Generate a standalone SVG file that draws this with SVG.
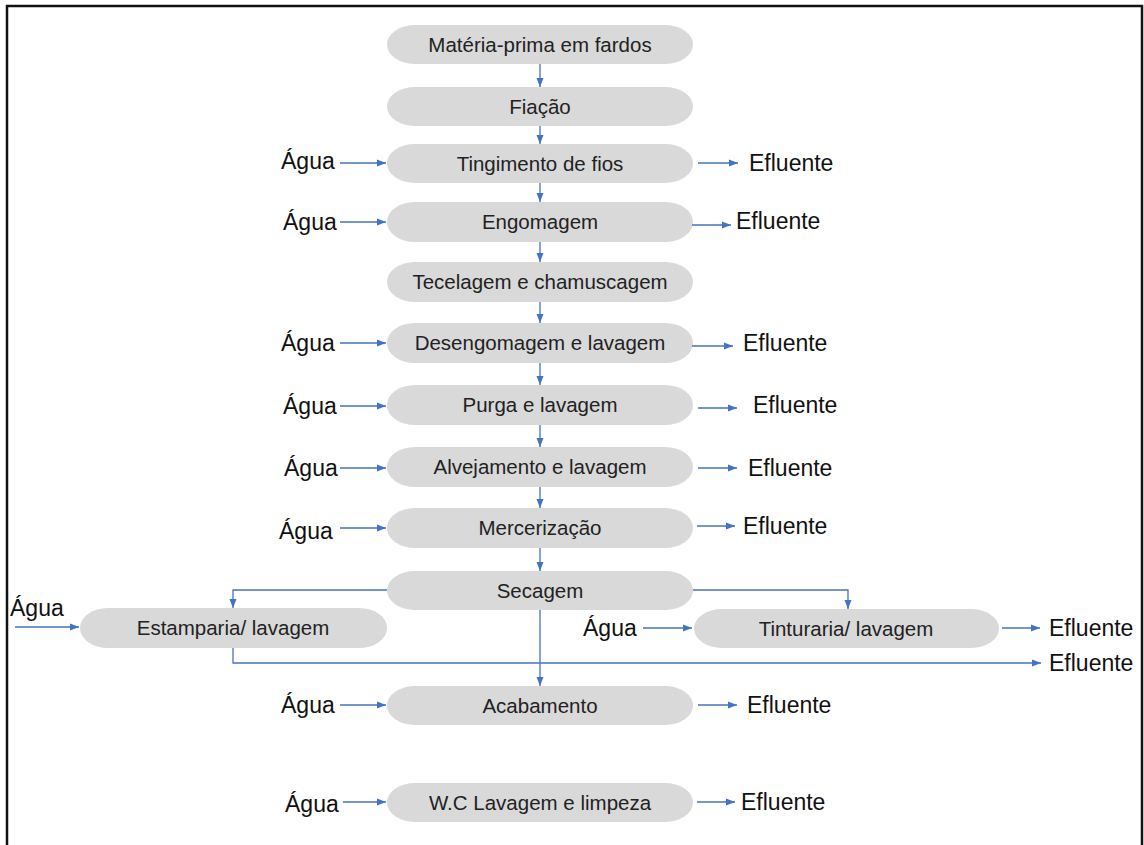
<svg xmlns="http://www.w3.org/2000/svg" width="1144" height="845" viewBox="0 0 1144 845">
<style>
.n{fill:#D9D9D9}
.t{font-family:"Liberation Sans",Arial,sans-serif;font-size:20.5px;fill:#222;text-anchor:middle}
.l{font-family:"Liberation Sans",Arial,sans-serif;font-size:23px;fill:#111}
.c{stroke:#4472C4;stroke-width:1.3;fill:none;marker-end:url(#a)}
</style>
<defs>
<marker id="a" markerUnits="userSpaceOnUse" markerWidth="10" markerHeight="8" refX="9" refY="4" orient="auto">
<path d="M0,0.5 L9,4 L0,7.5 z" fill="#4472C4"/>
</marker>
</defs>
<rect width="1144" height="845" fill="#fff"/>
<path d="M7,845 V6 H1142 V845" fill="none" stroke="#111" stroke-width="2.5"/>

<g id="n1"><rect class="n" x="387" y="25" width="306" height="39" rx="28" ry="20"/><text class="t" x="540" y="51.5">Matéria-prima em fardos</text></g>
<g id="n2"><rect class="n" x="387" y="87" width="306" height="39" rx="28" ry="20"/><text class="t" x="540" y="113.5">Fiação</text></g>
<g id="n3"><rect class="n" x="387" y="144" width="306" height="39" rx="28" ry="20"/><text class="t" x="540" y="170.5">Tingimento de fios</text></g>
<g id="n4"><rect class="n" x="387" y="202" width="306" height="40" rx="28" ry="20"/><text class="t" x="540" y="229">Engomagem</text></g>
<g id="n5"><rect class="n" x="387" y="262" width="306" height="40" rx="28" ry="20"/><text class="t" x="540" y="289">Tecelagem e chamuscagem</text></g>
<g id="n6"><rect class="n" x="387" y="323" width="306" height="40" rx="28" ry="20"/><text class="t" x="540" y="350">Desengomagem e lavagem</text></g>
<g id="n7"><rect class="n" x="387" y="385" width="306" height="40" rx="28" ry="20"/><text class="t" x="540" y="412">Purga e lavagem</text></g>
<g id="n8"><rect class="n" x="387" y="447" width="306" height="40" rx="28" ry="20"/><text class="t" x="540" y="474">Alvejamento e lavagem</text></g>
<g id="n9"><rect class="n" x="387" y="508" width="306" height="40" rx="28" ry="20"/><text class="t" x="540" y="535">Mercerização</text></g>
<g id="n10"><rect class="n" x="387" y="571" width="306" height="39" rx="28" ry="20"/><text class="t" x="540" y="597.5">Secagem</text></g>
<g id="n11"><rect class="n" x="80" y="608" width="307" height="40" rx="28" ry="20"/><text class="t" x="233" y="635">Estamparia/ lavagem</text></g>
<g id="n12"><rect class="n" x="694" y="609" width="305" height="39" rx="28" ry="20"/><text class="t" x="846" y="635.5">Tinturaria/ lavagem</text></g>
<g id="n13"><rect class="n" x="387" y="686" width="306" height="39" rx="28" ry="20"/><text class="t" x="540" y="712.5">Acabamento</text></g>
<g id="n14"><rect class="n" x="387" y="783" width="306" height="39" rx="28" ry="20"/><text class="t" x="540" y="809.5">W.C Lavagem e limpeza</text></g>

<g id="labels">
<text class="l" x="281" y="169">Água</text>
<text class="l" x="283" y="230">Água</text>
<text class="l" x="281" y="351">Água</text>
<text class="l" x="283" y="414">Água</text>
<text class="l" x="284" y="476">Água</text>
<text class="l" x="279" y="539">Água</text>
<text class="l" x="10" y="616">Água</text>
<text class="l" x="583" y="636">Água</text>
<text class="l" x="281" y="713">Água</text>
<text class="l" x="285" y="812">Água</text>
<text class="l" x="749" y="171">Efluente</text>
<text class="l" x="736" y="229">Efluente</text>
<text class="l" x="743" y="351">Efluente</text>
<text class="l" x="753" y="413">Efluente</text>
<text class="l" x="748" y="476">Efluente</text>
<text class="l" x="743" y="534">Efluente</text>
<text class="l" x="1049" y="636">Efluente</text>
<text class="l" x="1049" y="671">Efluente</text>
<text class="l" x="747" y="713">Efluente</text>
<text class="l" x="741" y="810">Efluente</text>
</g>

<g id="connectors">
<path class="c" d="M540,64 V87"/>
<path class="c" d="M540,126 V144"/>
<path class="c" d="M540,183 V202"/>
<path class="c" d="M540,242 V262"/>
<path class="c" d="M540,302 V323"/>
<path class="c" d="M540,363 V385"/>
<path class="c" d="M540,425 V447"/>
<path class="c" d="M540,487 V508"/>
<path class="c" d="M540,548 V571"/>
<path class="c" d="M540,610 V686"/>
<path class="c" d="M387,590 H233 V608"/>
<path class="c" d="M693,590 H848 V609"/>
<path class="c" d="M233,648 V663 H1041"/>
<path class="c" d="M340,163 H386"/>
<path class="c" d="M340,222 H386"/>
<path class="c" d="M340,343 H386"/>
<path class="c" d="M340,406 H386"/>
<path class="c" d="M340,468 H386"/>
<path class="c" d="M340,528 H386"/>
<path class="c" d="M15,627 H79"/>
<path class="c" d="M643,628 H692"/>
<path class="c" d="M340,705 H386"/>
<path class="c" d="M343,802 H386"/>
<path class="c" d="M698,163 H738"/>
<path class="c" d="M692,225 H731"/>
<path class="c" d="M692,346 H733"/>
<path class="c" d="M698,408 H737"/>
<path class="c" d="M698,468 H737"/>
<path class="c" d="M697,526 H735"/>
<path class="c" d="M1002,628 H1040"/>
<path class="c" d="M698,705 H737"/>
<path class="c" d="M697,802 H735"/>
</g>
</svg>
